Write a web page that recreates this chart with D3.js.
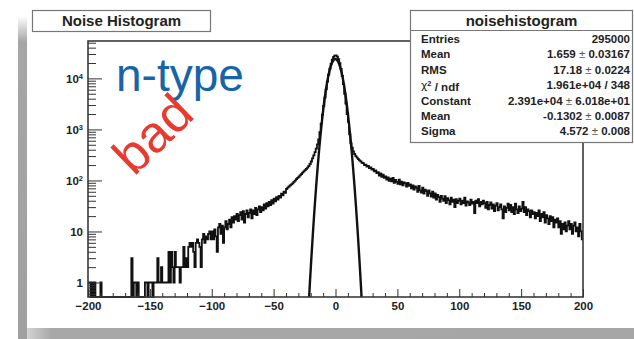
<!DOCTYPE html>
<html>
<head>
<meta charset="utf-8">
<script src="https://cdn.jsdelivr.net/npm/d3@7"></script>
<style>
  body { margin: 0; background: #fff; }
  svg { display: block; }
  text { font-family: "Liberation Sans", Arial, Helvetica, sans-serif; }
</style>
</head>
<body>
<svg id="chart" width="634" height="339"></svg>
<script>
// Noise histogram: 400 bins of width 1 from -200 to 200 (counts per bin)
const binStart = -200;
const binWidth = 1;
const counts = [
  /* -200 */ 1,1,0,1,0,1,0,0,0,0,1,0,0,0,0,0,0,0,0,0,
  /* -180 */ 0,0,0,0,0,0,0,0,0,0,0,0,0,0,0,3,0,1,1,0,
  /* -160 */ 1,0,0,0,0,0,1,1,0,1,1,1,0,1,1,1,3,1,1,2,
  /* -140 */ 1,1,1,1,1,4,1,4,2,1,4,2,2,2,1,2,2,5,2,3,
  /* -120 */ 2,5,6,5,6,4,2,6,7,6,5,2,7,9,6,8,7,9,10,7,
  /* -100 */ 10,7,11,8,4,12,14,9,13,6,12,16,11,14,17,12,19,15,20,17,
  /*  -80 */ 22,16,21,24,17,25,15,22,26,19,23,27,18,26,22,29,21,27,31,24,
  /*  -60 */ 30,26,34,28,36,31,38,33,41,35,44,39,47,42,50,46,55,51,60,57,
  /*  -40 */ 68,72,76,80,84,88,94,99,106,112,118,126,133,142,150,160,168,178,192,210,
  /*  -20 */ 235,270,310,360,420,510,640,880,1300,1950,2900,4200,6100,8600,11800,15500,19500,23200,26300,28000,
  /*    0 */ 28200,26800,23800,19800,15300,11200,7700,5000,3200,2000,1400,800,540,440,370,330,300,280,262,248,
  /*   20 */ 236,222,218,200,205,186,192,175,180,163,168,150,158,139,146,125,138,118,130,112,
  /*   40 */ 120,104,115,98,108,96,112,90,102,94,86,104,84,95,80,92,88,76,90,78,
  /*   60 */ 84,70,80,66,76,72,60,78,64,58,72,55,66,62,50,64,56,48,60,46,
  /*   80 */ 56,42,52,47,38,50,44,40,49,36,45,41,34,46,38,42,30,43,36,40,
  /*  100 */ 44,34,40,36,46,32,39,37,33,42,35,38,23,40,36,43,31,38,34,40,
  /*  120 */ 36,29,38,27,33,37,28,34,25,32,36,26,30,34,27,18,31,24,29,35,
  /*  140 */ 26,33,24,30,22,35,27,23,31,25,28,38,24,30,21,27,25,19,26,22,
  /*  160 */ 24,18,23,20,26,16,22,19,24,15,21,18,14,20,16,19,12,17,15,18,
  /*  180 */ 12,16,9,14,11,15,10,13,16,11,14,9,13,15,10,12,8,14,10,7
];

// Axis ticks and labels
const xMajorTicks = [-200, -150, -100, -50, 0, 50, 100, 150, 200];
const xMinorTicks = d3.range(-190, 200, 10).filter(v => v % 50 !== 0);
const yMajorTicks = [1, 10, 100, 1000, 10000];
const yTickBase = ["1", "10", "10", "10", "10"];
const yTickExp = ["", "", "2", "3", "4"];
const yMinorTicks = [0.6, 0.7, 0.8, 0.9]
  .concat(...[1, 10, 100, 1000, 10000].map(d => d3.range(2, 10).map(k => k * d)))
  .filter(v => v < 54000);

// Statistics box
const statTitle = "noisehistogram";
const statNames = ["Entries", "Mean", "RMS", "chi2", "Constant", "Mean", "Sigma"];
const statValues = ["295000", "1.659", "17.18", "1.961e+04 / 348", "2.391e+04", "-0.1302", "4.572"];
const statErrors = ["", "0.03167", "0.0224", "", "6.018e+01", "0.0087", "0.008"];

// Gaussian fit parameters, taken from the same entries that the box prints
const fitConstant = +statValues[4];
const fitMean = +statValues[5];
const fitSigma = +statValues[6];

const svg = d3.select("#chart");
const W = 634, H = 339;
const plot = { left: 88, right: 583, top: 41, bottom: 297 };

// page decoration: grey shadow edges around the canvas
const defs = svg.append("defs");
const gLeft = defs.append("linearGradient").attr("id", "fadeTop").attr("x1", 0).attr("y1", 0).attr("x2", 0).attr("y2", 1);
gLeft.append("stop").attr("offset", "0").attr("stop-color", "#ffffff");
gLeft.append("stop").attr("offset", "0.08").attr("stop-color", "#a6a6a6");
gLeft.append("stop").attr("offset", "1").attr("stop-color", "#a0a0a0");
const gBottom = defs.append("linearGradient").attr("id", "fadeLeft").attr("x1", 0).attr("y1", 0).attr("x2", 1).attr("y2", 0);
gBottom.append("stop").attr("offset", "0").attr("stop-color", "#d4d4d4");
gBottom.append("stop").attr("offset", "0.04").attr("stop-color", "#a8a8a8");
gBottom.append("stop").attr("offset", "1").attr("stop-color", "#a6a6a6");
defs.append("clipPath").attr("id", "plotClip").append("rect")
  .attr("x", plot.left).attr("y", plot.top)
  .attr("width", plot.right - plot.left).attr("height", plot.bottom - plot.top);

svg.append("rect").attr("x", 18).attr("y", 16).attr("width", 9).attr("height", H - 16).attr("fill", "url(#fadeTop)");
svg.append("rect").attr("x", 27).attr("y", 328).attr("width", W - 27).attr("height", 11).attr("fill", "url(#fadeLeft)");

// scales
const yMin = 0.52, yMax = 54000;
const x = d3.scaleLinear().domain([-200, 200]).range([plot.left, plot.right]);
const y = d3.scaleLog().domain([yMin, yMax]).range([plot.bottom, plot.top]);

// histogram outline
const pts = counts.map((c, i) => [binStart + i * binWidth, c]);
pts.push([binStart + counts.length * binWidth, counts[counts.length - 1]]);
const stepLine = d3.line()
  .x(d => x(d[0]))
  .y(d => y(Math.max(d[1], yMin)))
  .curve(d3.curveStepAfter);
svg.append("path")
  .datum(pts)
  .attr("d", stepLine)
  .attr("fill", "none")
  .attr("stroke", "#111")
  .attr("stroke-width", 1.8)
  .attr("stroke-linejoin", "miter");

// Gaussian fit curve
const fitPts = d3.range(-200, 200.01, 0.1).map(v => {
  const g = fitConstant * Math.exp(-0.5 * Math.pow((v - fitMean) / fitSigma, 2));
  return [v, Math.max(g, 1e-3)];
});
svg.append("path")
  .datum(fitPts)
  .attr("clip-path", "url(#plotClip)")
  .attr("d", d3.line().x(d => x(d[0])).y(d => y(d[1])))
  .attr("fill", "none")
  .attr("stroke", "#111")
  .attr("stroke-width", 2.4);

// frame
svg.append("rect")
  .attr("x", plot.left).attr("y", plot.top)
  .attr("width", plot.right - plot.left).attr("height", plot.bottom - plot.top)
  .attr("fill", "none").attr("stroke", "#3a3a3a").attr("stroke-width", 1.6);

// x axis: major ticks with labels, minor ticks, all drawn inward
const xAxisMajor = svg.append("g")
  .attr("transform", `translate(0,${plot.bottom})`)
  .call(d3.axisBottom(x).tickValues(xMajorTicks).tickSize(-8).tickPadding(5).tickFormat(d3.format("d")));
const xAxisMinor = svg.append("g")
  .attr("transform", `translate(0,${plot.bottom})`)
  .call(d3.axisBottom(x).tickValues(xMinorTicks).tickSize(-4).tickFormat(""));

// y axis (log)
const yAxisMajor = svg.append("g")
  .attr("transform", `translate(${plot.left},0)`)
  .call(d3.axisLeft(y).tickValues(yMajorTicks).tickSize(-14).tickPadding(5).tickFormat(""));
const yAxisMinor = svg.append("g")
  .attr("transform", `translate(${plot.left},0)`)
  .call(d3.axisLeft(y).tickValues(yMinorTicks).tickSize(-8).tickFormat(""));

[xAxisMajor, xAxisMinor, yAxisMajor, yAxisMinor].forEach(g => {
  g.select(".domain").remove();
  g.selectAll(".tick line").attr("stroke", "#333").attr("stroke-width", 1);
});
xAxisMajor.selectAll(".tick text")
  .attr("font-size", 11.5).attr("font-weight", "bold").attr("fill", "#222")
  .attr("font-family", "'Liberation Sans', Arial, sans-serif");
yAxisMajor.selectAll(".tick text").each(function (d, i) {
  const t = d3.select(this)
    .attr("font-size", 11.5).attr("font-weight", "bold").attr("fill", "#222")
    .attr("font-family", "'Liberation Sans', Arial, sans-serif");
  t.text(null);
  t.append("tspan").text(yTickBase[i]);
  if (yTickExp[i]) t.append("tspan").attr("dy", "-0.45em").attr("font-size", 7.5).text(yTickExp[i]);
});

// title box
svg.append("rect").attr("x", 32.5).attr("y", 10.5).attr("width", 178).attr("height", 21)
  .attr("fill", "#fff").attr("stroke", "#777").attr("stroke-width", 1.2);
svg.append("text").attr("x", 121.5).attr("y", 26).attr("text-anchor", "middle")
  .attr("font-size", 15).attr("font-weight", "bold").attr("fill", "#222")
  .text("Noise Histogram");

// statistics box
const sb = svg.append("g");
sb.append("rect").attr("x", 410.5).attr("y", 10.5).attr("width", 222).attr("height", 132)
  .attr("fill", "#fff").attr("stroke", "#777").attr("stroke-width", 1.2);
sb.append("line").attr("x1", 410.5).attr("x2", 632.5).attr("y1", 30.5).attr("y2", 30.5)
  .attr("stroke", "#777").attr("stroke-width", 1.2);
sb.append("text").attr("x", 521.5).attr("y", 25.5).attr("text-anchor", "middle")
  .attr("font-size", 15).attr("font-weight", "bold").attr("fill", "#222").text(statTitle);
statNames.forEach((name, i) => {
  const yy = 43 + i * 15.4;
  const lab = sb.append("text").attr("x", 421).attr("y", yy)
    .attr("font-size", 11.5).attr("font-weight", "bold").attr("fill", "#222");
  if (name === "chi2") {
    lab.attr("font-weight", "normal");
    lab.append("tspan").attr("font-family", "'DejaVu Sans', sans-serif").attr("font-size", 11).text("\u03C7");
    lab.append("tspan").attr("dy", "-0.45em").attr("font-size", 7.5).attr("font-weight", "bold").text("2");
    lab.append("tspan").attr("dy", "0.45em").attr("font-weight", "bold").text(" / ndf");
  } else {
    lab.text(name);
  }
  const val = sb.append("text").attr("x", 630).attr("y", yy).attr("text-anchor", "end")
    .attr("font-size", 11.5).attr("font-weight", "bold").attr("fill", "#222");
  val.append("tspan").text(statValues[i]);
  if (statErrors[i]) {
    val.append("tspan").attr("font-weight", "normal").attr("fill", "#555").text(" \u00B1 ");
    val.append("tspan").text(statErrors[i]);
  }
});

// annotations
svg.append("text").attr("x", 116).attr("y", 91)
  .attr("font-size", 46).attr("fill", "#1764a6").text("n-type");
svg.append("text")
  .attr("transform", "translate(134,177) rotate(-44)")
  .attr("font-size", 52).attr("fill", "#e63b2e").text("bad");
</script>
</body>
</html>
